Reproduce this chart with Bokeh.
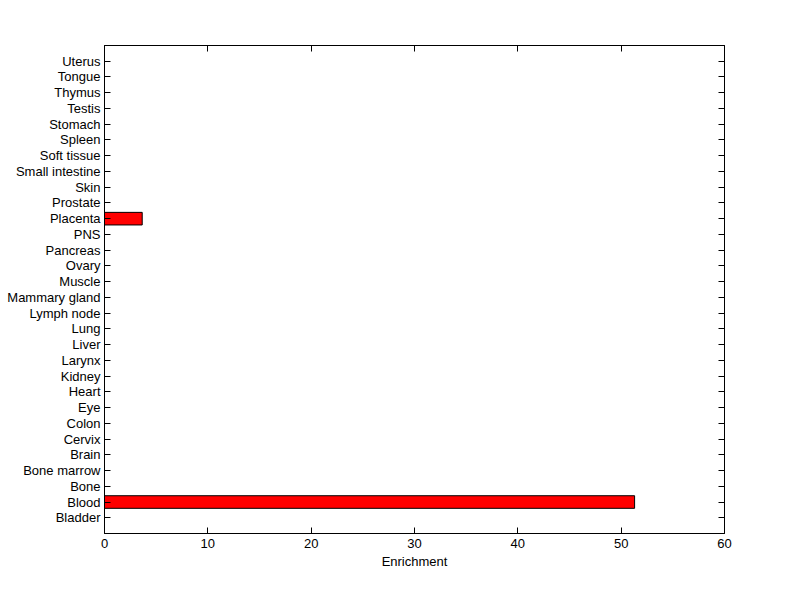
from bokeh.plotting import figure
from bokeh.models import ColumnDataSource, FixedTicker, LinearAxis, Range1d
from bokeh.embed import file_html
from bokeh.resources import INLINE

categories = ["Bladder", "Blood", "Bone", "Bone marrow", "Brain", "Cervix", "Colon", "Eye",
              "Heart", "Kidney", "Larynx", "Liver", "Lung", "Lymph node", "Mammary gland",
              "Muscle", "Ovary", "Pancreas", "PNS", "Placenta", "Prostate", "Skin",
              "Small intestine", "Soft tissue", "Spleen", "Stomach", "Testis", "Thymus",
              "Tongue", "Uterus"]
enrichment = [0, 51.3, 0, 0, 0, 0, 0, 0, 0, 0, 0, 0, 0, 0, 0, 0, 0, 0, 0, 3.65,
              0, 0, 0, 0, 0, 0, 0, 0, 0, 0]
x_ticks = [0, 10, 20, 30, 40, 50, 60]

pos = list(range(1, len(categories) + 1))
nz = [(p_, v) for p_, v in zip(pos, enrichment) if v > 0]
src = ColumnDataSource(dict(y=[a for a, _ in nz], right=[b for _, b in nz]))

FONT = "Liberation Sans"
p = figure(width=792, height=591, output_backend="svg", toolbar_location=None,
           x_range=Range1d(0, 60), y_range=Range1d(0, len(categories) + 1),
           min_border_left=104, min_border_right=68, min_border_top=45, min_border_bottom=58)
p.hbar(y="y", left=0, right="right", height=0.8, source=src,
       fill_color="#ff0000", line_color="black", line_width=1)

p.xgrid.visible = False
p.ygrid.visible = False
p.outline_line_color = "black"
p.outline_line_width = 1

p.xaxis.ticker = FixedTicker(ticks=x_ticks)
p.xaxis.axis_label = "Enrichment"
p.yaxis.ticker = FixedTicker(ticks=pos)
p.yaxis.major_label_overrides = {i: c for i, c in zip(pos, categories)}

for ax in (p.xaxis[0], p.yaxis[0]):
    ax.major_tick_in = 6
    ax.major_tick_out = 0
    ax.minor_tick_line_color = None
    ax.major_label_text_font = FONT
    ax.major_label_text_font_size = "13px"
    ax.major_label_text_color = "black"
    ax.axis_line_color = "black"
    ax.major_tick_line_color = "black"
    ax.major_label_standoff = 4
p.xaxis.major_label_standoff = 5
p.xaxis.axis_label_text_font = FONT
p.xaxis.axis_label_text_font_size = "13px"
p.xaxis.axis_label_text_font_style = "normal"
p.xaxis.axis_label_text_color = "black"
p.xaxis.axis_label_standoff = 3

top = LinearAxis(ticker=FixedTicker(ticks=x_ticks))
right = LinearAxis(ticker=FixedTicker(ticks=pos))
for ax in (top, right):
    ax.major_tick_in = 6
    ax.major_tick_out = 0
    ax.minor_tick_line_color = None
    ax.major_label_text_color = None
    ax.major_label_text_font_size = "1px"
    ax.axis_line_color = "black"
    ax.major_tick_line_color = "black"
p.add_layout(top, "above")
p.add_layout(right, "right")

open("out.html", "w").write(file_html(p, INLINE))
